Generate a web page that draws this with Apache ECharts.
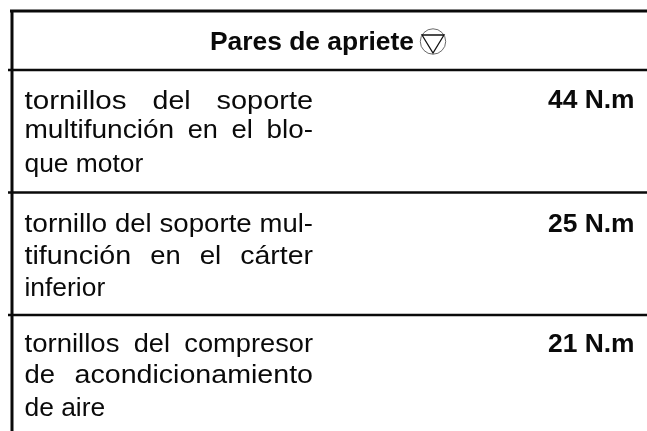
<!DOCTYPE html>
<html><head><meta charset="utf-8">
<style>html,body{margin:0;padding:0;background:#fff}#c{width:647px;height:431px}</style>
<script src="https://cdn.jsdelivr.net/npm/echarts@6/dist/echarts.min.js"></script>
</head><body><div id="c"></div>
<script>
const headerTitle = 'Pares de apriete';
const row1Lines = ['tornillos del soporte', 'multifunción en el blo-', 'que motor'];
const row2Lines = ['tornillo del soporte mul-', 'tifunción en el cárter', 'inferior'];
const row3Lines = ['tornillos del compresor', 'de acondicionamiento', 'de aire'];
const torqueValues = [44, 25, 21];
const torqueUnit = 'N.m';

const FONT = '"Liberation Sans", Arial, sans-serif';
const SIZE = 26.4, L = 24.5, R = 313, RIGHT = 634.5;
const ctx = document.createElement('canvas').getContext('2d');
const els = [];
function text(str, x, base, bold, align, sx) {
  els.push({type:'text', x, y: base - SIZE * 0.345 + 2, scaleX: sx || 1, silent:true, style:{
    text: str, fill:'#0a0a0a', font:(bold?'bold ':'') + SIZE + 'px ' + FONT,
    align: align || 'left', verticalAlign:'middle'}});
}
function width(s) { ctx.font = SIZE + 'px "Liberation Sans"'; return ctx.measureText(s).width; }
function line(x1, y1, x2, y2, w) {
  els.push({type:'line', silent:true, shape:{x1,y1,x2,y2}, style:{stroke:'#0a0a0a', lineWidth:w}});
}
function justified(str, base, track) {
  const words = str.split(' ');
  const wide = words.map(w => width(w) + track * (w.length - 1));
  const gap = (R - L - wide.reduce((a, b) => a + b, 0)) / (words.length - 1);
  let x = L;
  words.forEach((w, i) => { text(w, x, base, false, 'left', wide[i] / width(w)); x += wide[i] + gap; });
}
line(10, 11, 647, 11, 3);
line(12, 10, 12, 431, 3);
line(8, 70, 647, 70, 2.5);
line(8, 192.5, 647, 192.5, 2.5);
line(8, 315, 647, 315, 2.5);

text(headerTitle, 210, 50, true);
els.push({type:'circle', silent:true, shape:{cx:433, cy:41.5, r:12.7}, style:{fill:'none', stroke:'#444', lineWidth:0.8}});
els.push({type:'polygon', silent:true, shape:{points:[[422,35],[444,35],[433,53]]}, style:{fill:'none', stroke:'#111', lineWidth:1.3}});

const rows = [
  [row1Lines, [109,138,172], [1.4,0.8], 108],
  [row2Lines, [232,264,296], [0.7,1.05], 232],
  [row3Lines, [352,383,416], [0.5,1.15], 352]
];
rows.forEach(([lines, bases, tracks, vb], i) => {
  lines.forEach((s, j) => { j < 2 ? justified(s, bases[j], tracks[j]) : text(s, L, bases[j]); });
  text(torqueValues[i] + ' ' + torqueUnit, RIGHT, vb, true, 'right');
});
const chart = echarts.init(document.getElementById('c'), null, {renderer:'canvas'});
chart.setOption({animation:false, backgroundColor:'#fff', graphic:{elements:els}});
</script></body></html>
